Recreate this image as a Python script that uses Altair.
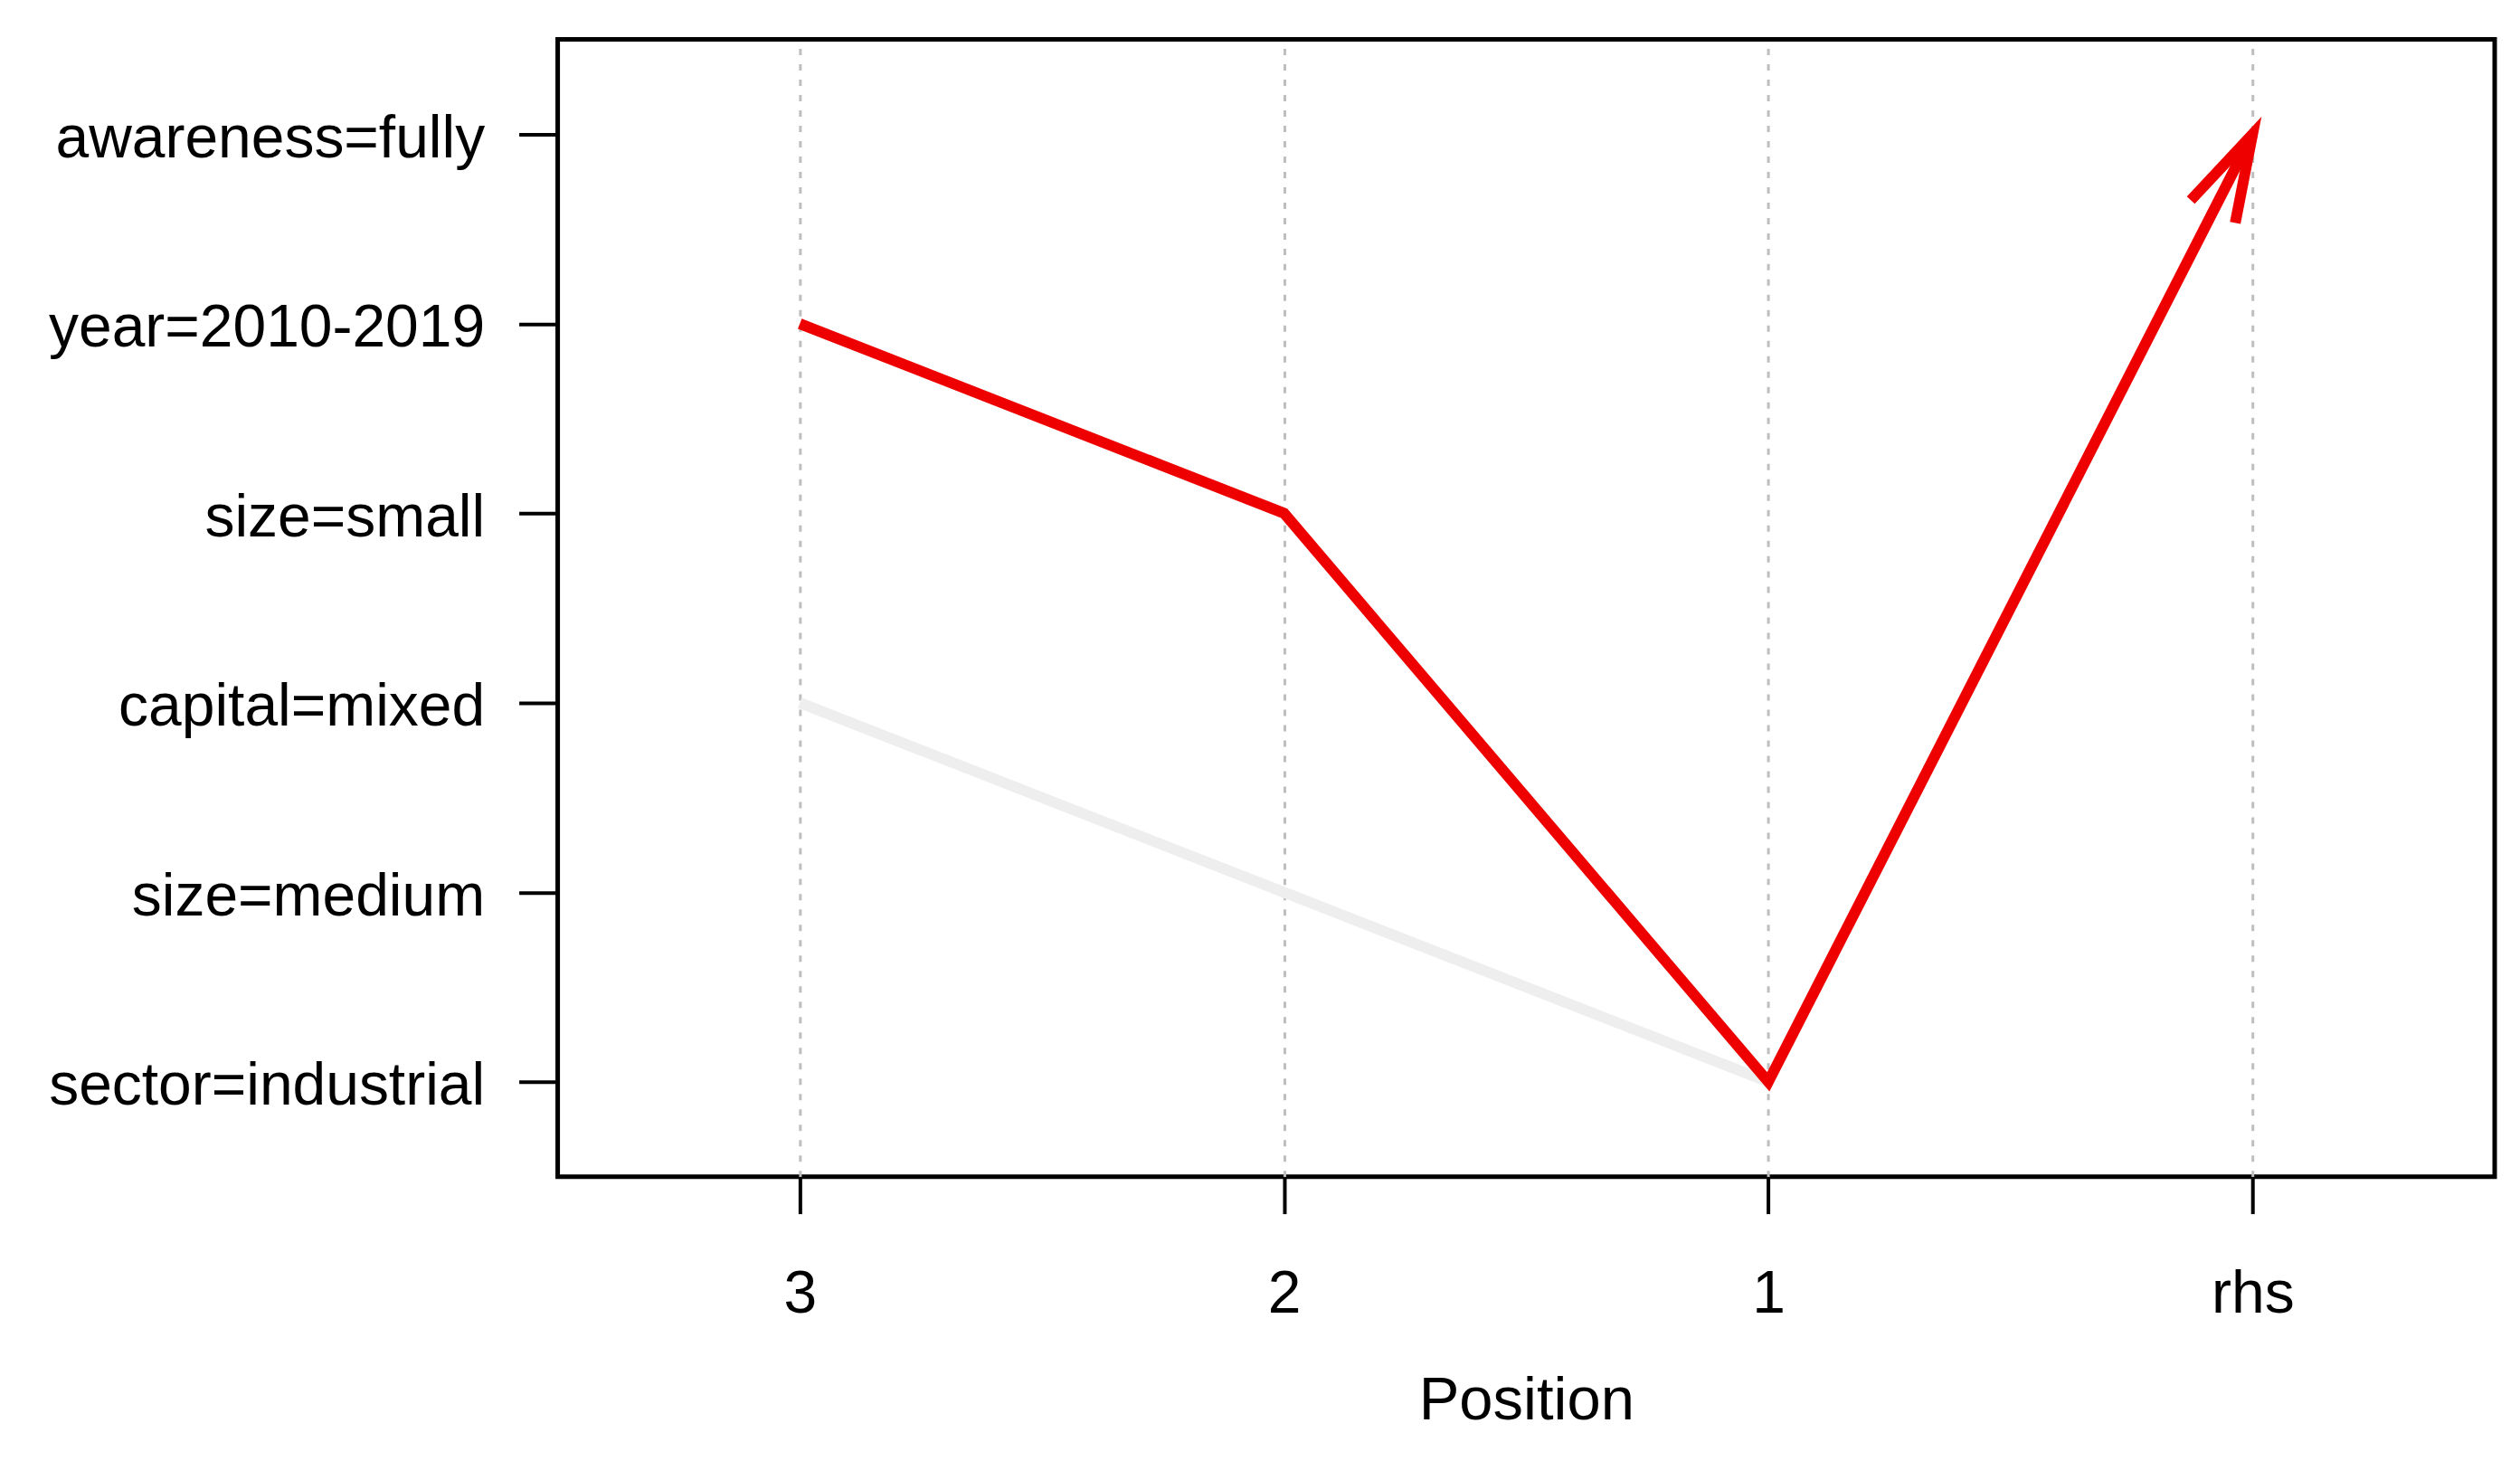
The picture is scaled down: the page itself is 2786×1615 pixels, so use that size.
import math
import altair as alt
import pandas as pd

# ---- data ----
positions = ["3", "2", "1", "rhs"]
items = ["awareness=fully", "year=2010-2019", "size=small",
         "capital=mixed", "size=medium", "sector=industrial"]

gray_pos = ["3", "2", "1"]
gray_items = ["capital=mixed", "size=medium", "sector=industrial"]

red_pos = ["3", "2", "1", "rhs"]
red_items = ["year=2010-2019", "size=small", "sector=industrial", "awareness=fully"]

W, H = 2143, 1258
FONT = "Liberation Sans"

gray_df = pd.DataFrame({"pos": gray_pos, "item": gray_items, "k": range(len(gray_pos))})
red_df = pd.DataFrame({"pos": red_pos, "item": red_items, "k": range(len(red_pos))})
tip_df = red_df.tail(1)

x_enc = alt.X("pos:O", sort=positions,
              scale=alt.Scale(type="point", padding=0.5),
              axis=alt.Axis(title="Position"))
y_enc = alt.Y("item:O", sort=items,
              scale=alt.Scale(type="point", padding=0.5),
              axis=alt.Axis(title=None, grid=False))

gray_line = alt.Chart(gray_df).mark_line(color="#EEEEEE", strokeWidth=12).encode(
    x=x_enc, y=y_enc, order="k:Q")
red_line = alt.Chart(red_df).mark_line(color="#EE0000", strokeWidth=12).encode(
    x=x_enc, y=y_enc, order="k:Q")

# arrow head direction from the last segment (pixel geometry of point scales)
step_x = W / len(positions)
step_y = H / len(items)
ang = math.degrees(math.atan2(step_x, 5 * step_y))
half = math.radians(16)
path = f"M {-math.sin(half):.3f} {math.cos(half):.3f} L 0 0 L {math.sin(half):.3f} {math.cos(half):.3f}"
tip = alt.Chart(tip_df).mark_point(shape=path, filled=False, stroke="#EE0000",
                                   strokeWidth=12, size=40000, opacity=1,
                                   angle=ang).encode(x=x_enc, y=y_enc)

chart = alt.layer(gray_line, red_line, tip).properties(
    width=W, height=H,
    autosize=alt.AutoSizeParams(type="none"),
    padding={"left": 609, "top": 35, "right": 20, "bottom": 300},
).configure_view(
    stroke="black", strokeWidth=5
).configure_axis(
    labelFont=FONT, labelFontSize=66, labelColor="black", labelLimit=2000,
    titleFont=FONT, titleFontSize=67, titleFontWeight="normal", titleColor="black",
    domain=False, tickColor="black", tickWidth=4,
).configure_axisX(
    tickSize=41, labelPadding=57, titlePadding=52, labelAngle=0,
    grid=True, gridColor="#BEBEBE", gridDash=[7, 10], gridWidth=3,
).configure_axisY(
    tickSize=43, labelPadding=38, labelOffset=5,
)

chart.save("out.html", embed_options={"renderer": "svg", "actions": False})
